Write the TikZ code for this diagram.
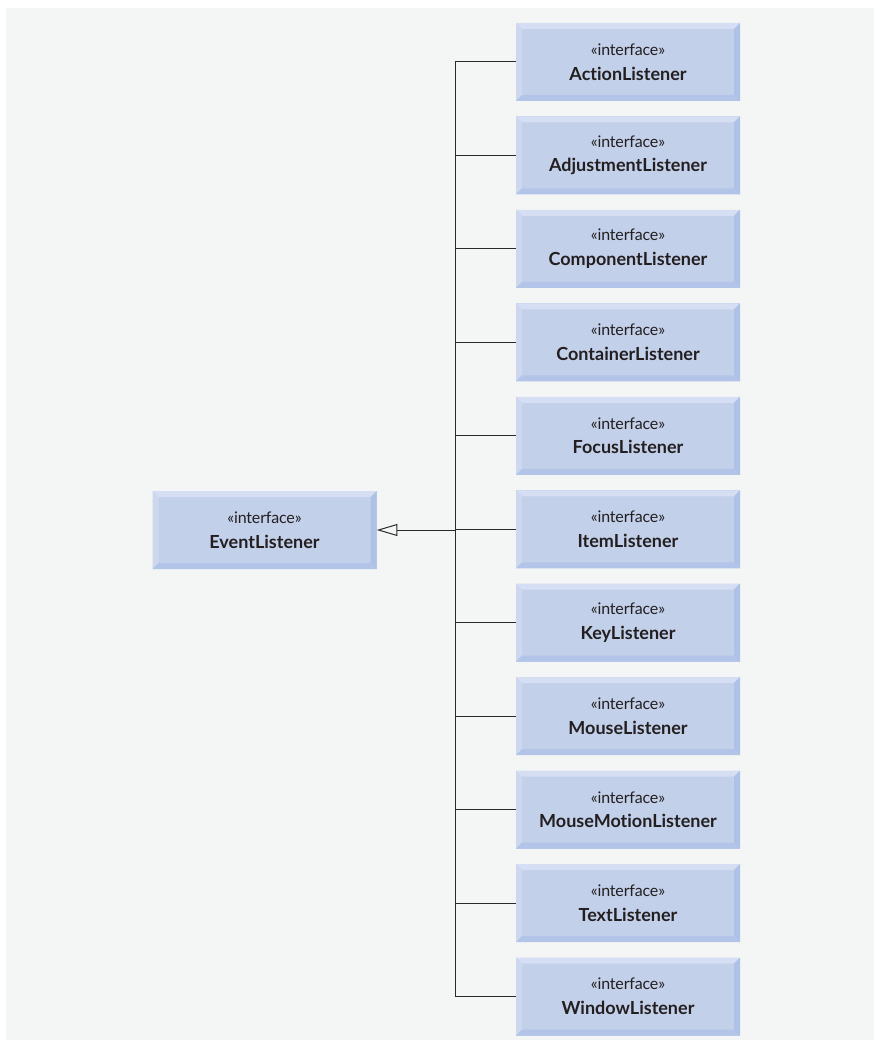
\documentclass[tikz,border=0pt]{standalone}
\usepackage{fontspec}
\setmainfont[Ligatures=NoCommon]{Lato}
\usetikzlibrary{arrows.meta}
\definecolor{panel}{HTML}{F4F5F5}
\definecolor{boxmid}{HTML}{C3D0EA}
\definecolor{boxtop}{HTML}{D5DEF2}
\definecolor{boxleft}{HTML}{CDD8EF}
\definecolor{boxright}{HTML}{AEC1E6}
\definecolor{boxbottom}{HTML}{B2C4E7}
\definecolor{ink}{HTML}{231F20}
\definecolor{wire}{HTML}{2A2A2A}
\tikzset{
  iface/.style={minimum width=168pt, minimum height=58.5pt, inner sep=0pt, fill=boxmid,
    align=center, text=ink,
    path picture={
      \fill[boxtop] (path picture bounding box.north west) -- (path picture bounding box.north east)
        -- ([shift={(-4.5pt,-4.5pt)}]path picture bounding box.north east)
        -- ([shift={(4.5pt,-4.5pt)}]path picture bounding box.north west) -- cycle;
      \fill[boxleft] (path picture bounding box.north west)
        -- ([shift={(4.5pt,-4.5pt)}]path picture bounding box.north west)
        -- ([shift={(4.5pt,4.5pt)}]path picture bounding box.south west)
        -- (path picture bounding box.south west) -- cycle;
      \fill[boxright] (path picture bounding box.north east)
        -- (path picture bounding box.south east)
        -- ([shift={(-4.5pt,4.5pt)}]path picture bounding box.south east)
        -- ([shift={(-4.5pt,-4.5pt)}]path picture bounding box.north east) -- cycle;
      \fill[boxbottom] (path picture bounding box.south west)
        -- (path picture bounding box.south east)
        -- ([shift={(-4.5pt,4.5pt)}]path picture bounding box.south east)
        -- ([shift={(4.5pt,4.5pt)}]path picture bounding box.south west) -- cycle;
    }},
  wireline/.style={draw=wire, line width=0.75pt},
  genarrow/.style={wireline, -{Triangle[open, length=15.5pt, width=9pt, line width=0.75pt]}}
}
\newcommand{\ifacetext}[1]{{\fontsize{12pt}{13pt}\selectfont\addfontfeatures{LetterSpace=-1}«interface»}\\[6.5pt]{\fontsize{13.5pt}{15pt}\selectfont\bfseries #1}}
\begin{document}
\begin{tikzpicture}[x=0.75pt, y=-0.75pt]
\useasboundingbox (0,0) rectangle (874,1045);
\fill[panel] (6,8) rectangle (874,1040);

\node[iface] (ev) at (264.5,530) {\ifacetext{EventListener}};

\node[iface] (n1) at (628,62.0) {\ifacetext{ActionListener}};
\node[iface] (n2) at (628,155.45) {\ifacetext{AdjustmentListener}};
\node[iface] (n3) at (628,248.9) {\ifacetext{ComponentListener}};
\node[iface] (n4) at (628,342.35) {\ifacetext{ContainerListener}};
\node[iface] (n5) at (628,435.8) {\ifacetext{FocusListener}};
\node[iface] (n6) at (628,529.25) {\ifacetext{ItemListener}};
\node[iface] (n7) at (628,622.7) {\ifacetext{KeyListener}};
\node[iface] (n8) at (628,716.15) {\ifacetext{MouseListener}};
\node[iface] (n9) at (628,809.6) {\ifacetext{MouseMotionListener}};
\node[iface] (n10) at (628,903.05) {\ifacetext{TextListener}};
\node[iface] (n11) at (628,996.5) {\ifacetext{WindowListener}};

\coordinate (bus) at (455,530);

\draw[wireline] (n1.west -| bus) -- (n11.west -| bus);
\foreach \n in {n1,n2,n3,n4,n5,n6,n7,n8,n9,n10,n11}
  \draw[wireline] (\n.west) -- (\n.west -| bus);
\draw[genarrow] (bus) -- (bus -| ev.east);
\end{tikzpicture}
\end{document}
